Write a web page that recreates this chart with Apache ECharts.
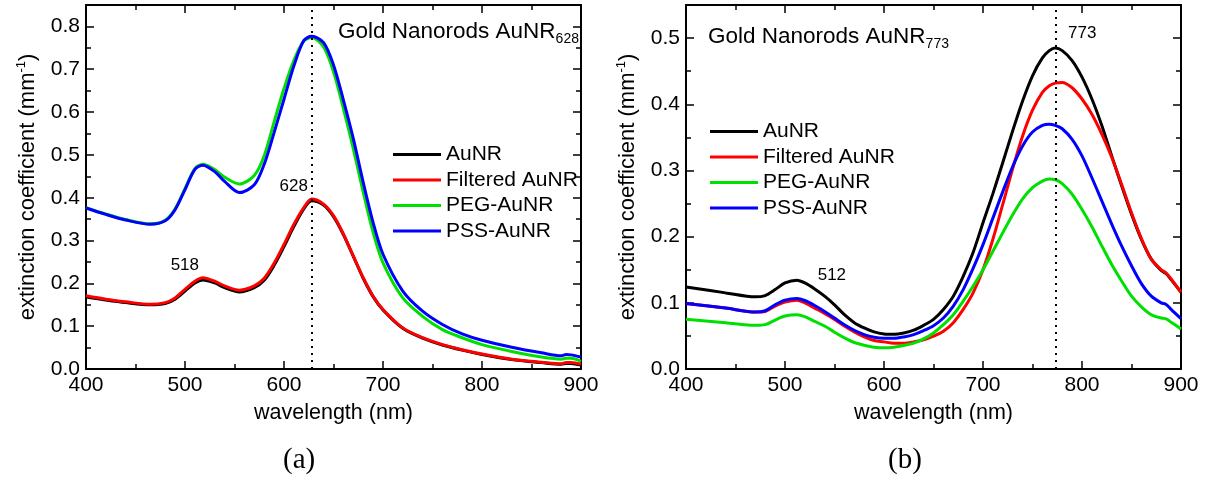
<!DOCTYPE html>
<html>
<head>
<meta charset="utf-8">
<script src="https://cdn.jsdelivr.net/npm/echarts@6/dist/echarts.min.js"></script>
<style>
  html, body { margin: 0; padding: 0; background: #fff; }
  #chart { width: 1208px; height: 484px; }
</style>
</head>
<body>
<div id="chart"></div>
<script>
// panel (a): AuNR628
var wlA = [400,420,440,465,480,490,500,510,518,530,540,555,570,580,590,600,610,620,628,640,650,660,670,680,690,700,720,740,760,780,800,830,860,880,885,890,900];
var aunrA     = [0.168,0.161,0.155,0.150,0.153,0.163,0.182,0.201,0.208,0.201,0.190,0.180,0.190,0.207,0.242,0.286,0.333,0.374,0.393,0.383,0.356,0.314,0.263,0.212,0.169,0.138,0.095,0.072,0.056,0.044,0.034,0.022,0.015,0.011,0.013,0.013,0.009];
var filteredA = [0.171,0.163,0.157,0.151,0.155,0.166,0.186,0.205,0.213,0.205,0.194,0.184,0.194,0.212,0.247,0.291,0.338,0.377,0.397,0.385,0.358,0.315,0.264,0.213,0.170,0.139,0.096,0.073,0.057,0.045,0.035,0.023,0.016,0.012,0.015,0.015,0.011];
var pegA      = [0.377,0.362,0.349,0.339,0.347,0.374,0.421,0.468,0.478,0.466,0.448,0.432,0.452,0.498,0.577,0.655,0.721,0.766,0.774,0.752,0.694,0.608,0.514,0.413,0.319,0.248,0.166,0.123,0.092,0.073,0.057,0.041,0.028,0.023,0.025,0.025,0.018];
var pssA      = [0.376,0.361,0.348,0.338,0.346,0.372,0.419,0.466,0.476,0.461,0.438,0.412,0.430,0.478,0.552,0.630,0.708,0.767,0.777,0.762,0.710,0.628,0.538,0.436,0.342,0.268,0.182,0.135,0.104,0.082,0.067,0.051,0.038,0.031,0.034,0.033,0.028];

// panel (b): AuNR773
var wlB = [400,440,470,480,490,500,512,520,530,540,550,560,570,580,590,600,610,620,630,640,650,660,670,680,690,700,710,720,730,740,750,760,767,773,780,790,800,810,820,830,840,850,860,870,880,885,890,900];
var aunrB     = [0.124,0.115,0.109,0.111,0.120,0.130,0.134,0.130,0.121,0.110,0.097,0.082,0.070,0.062,0.056,0.053,0.0525,0.0545,0.0586,0.066,0.075,0.090,0.110,0.140,0.176,0.221,0.265,0.312,0.360,0.405,0.443,0.470,0.481,0.485,0.481,0.466,0.441,0.408,0.368,0.322,0.277,0.234,0.196,0.166,0.149,0.144,0.135,0.116];
var filteredB = [0.099,0.092,0.086,0.087,0.095,0.101,0.104,0.100,0.092,0.084,0.075,0.065,0.056,0.0485,0.043,0.041,0.039,0.039,0.041,0.044,0.0495,0.057,0.070,0.090,0.115,0.150,0.196,0.249,0.303,0.352,0.391,0.418,0.428,0.432,0.433,0.425,0.408,0.385,0.355,0.320,0.279,0.236,0.197,0.166,0.150,0.145,0.136,0.116];
var pegB      = [0.075,0.070,0.066,0.067,0.074,0.080,0.082,0.079,0.072,0.065,0.0555,0.047,0.040,0.036,0.033,0.032,0.033,0.0355,0.039,0.0455,0.0545,0.067,0.082,0.1025,0.125,0.150,0.178,0.206,0.233,0.257,0.274,0.284,0.287,0.286,0.280,0.264,0.241,0.215,0.186,0.158,0.133,0.110,0.094,0.082,0.077,0.0757,0.0707,0.0606];
var pssB      = [0.099,0.092,0.086,0.088,0.097,0.104,0.1065,0.1035,0.096,0.087,0.077,0.067,0.0585,0.052,0.048,0.0465,0.0465,0.0485,0.052,0.058,0.0655,0.077,0.095,0.120,0.152,0.188,0.228,0.268,0.306,0.337,0.358,0.368,0.370,0.368,0.363,0.347,0.322,0.289,0.254,0.219,0.186,0.156,0.129,0.110,0.100,0.0975,0.090,0.076];

var names = ['AuNR', 'Filtered AuNR', 'PEG-AuNR', 'PSS-AuNR'];
var colors = ['#000000', '#ff0000', '#00e000', '#0000ff'];
var peakA = 628, peakB = 773;

var font = "'Liberation Sans', Arial, sans-serif";

function pairs(xs, ys) {
  return xs.map(function (x, i) { return [x, ys[i]]; });
}

function xAx(gridIndex, pos) {
  return {
    type: 'value', gridIndex: gridIndex, position: pos, min: 400, max: 900, interval: 100,
    name: pos === 'bottom' ? 'wavelength (nm)' : '', nameLocation: 'middle', nameGap: 33,
    nameTextStyle: { fontFamily: font, fontSize: 21.5, color: '#000' },
    axisLine: { show: true, onZero: false, lineStyle: { color: '#000', width: 2 } },
    axisTick: { show: true, inside: true, length: 8, lineStyle: { color: '#000', width: 1.5 } },
    minorTick: { show: true, splitNumber: 2, length: 5, lineStyle: { color: '#000', width: 1.5 } },
    axisLabel: { show: pos === 'bottom', fontFamily: font, fontSize: 21, color: '#000', margin: 6 },
    splitLine: { show: false }
  };
}

function yAx(gridIndex, pos, max) {
  return {
    type: 'value', gridIndex: gridIndex, position: pos, min: 0, max: max, interval: 0.1,
    name: pos === 'left' ? 'extinction coefficient (mm{sup|-1})' : '',
    nameLocation: 'middle', nameGap: 46,
    nameTextStyle: { fontFamily: font, fontSize: 22, color: '#000',
      rich: { sup: { fontFamily: font, fontSize: 13, color: '#000', padding: [0, 0, 12, 0] } } },
    axisLine: { show: true, onZero: false, lineStyle: { color: '#000', width: 2 } },
    axisTick: { show: true, inside: true, length: 8, lineStyle: { color: '#000', width: 1.5 } },
    minorTick: { show: true, splitNumber: 2, length: 5, lineStyle: { color: '#000', width: 1.5 } },
    axisLabel: { show: pos === 'left', showMaxLabel: false, fontFamily: font, fontSize: 21, color: '#000', margin: 6,
      formatter: function (v) { return v.toFixed(1); } },
    splitLine: { show: false }
  };
}

function line(name, idx, xs, ys, axis, extra) {
  var s = {
    name: name, type: 'line', xAxisIndex: axis, yAxisIndex: axis,
    data: pairs(xs, ys), symbol: 'none', smooth: 0.3, z: 2 + idx,
    lineStyle: { color: colors[idx], width: 3 }, itemStyle: { color: colors[idx] },
    animation: false
  };
  if (extra) Object.keys(extra).forEach(function (k) { s[k] = extra[k]; });
  return s;
}

function peakLine(x) {
  return {
    symbol: 'none', silent: true, label: { show: false },
    lineStyle: { color: '#000', type: [2, 5], width: 2 },
    data: [{ xAxis: x }]
  };
}

var peakLabelStyle = { show: true, fontFamily: font, fontSize: 17, color: '#000', position: 'inside' };

var seriesA = [
  line(names[0], 0, wlA, aunrA, 0),
  line(names[1], 1, wlA, filteredA, 0, {
    markLine: peakLine(peakA),
    markPoint: { symbol: 'circle', symbolSize: 0, silent: true, label: peakLabelStyle,
      data: [
        { coord: [peakA, 0.397], label: { formatter: '628', offset: [-18, -13] } },
        { coord: [518, 0.213], label: { formatter: '518', offset: [-18, -12] } }
      ] }
  }),
  line(names[2], 2, wlA, pegA, 0),
  line(names[3], 3, wlA, pssA, 0)
];

var seriesB = [
  line(names[0], 0, wlB, aunrB, 2, {
    markLine: peakLine(peakB),
    markPoint: { symbol: 'circle', symbolSize: 0, silent: true, label: peakLabelStyle,
      data: [
        { coord: [peakB, 0.485], label: { formatter: '773', offset: [27, -15] } },
        { coord: [512, 0.134], label: { formatter: '512', offset: [35, -5] } }
      ] }
  }),
  line(names[1], 1, wlB, filteredB, 2),
  line(names[2], 2, wlB, pegB, 2),
  line(names[3], 3, wlB, pssB, 2)
];

var legendBase = {
  data: names, orient: 'vertical', itemWidth: 48, itemHeight: 14, itemGap: 4.5, padding: 0,
  selectedMode: false, icon: 'path://M0,0 L48,0 L48,3 L0,3 Z',
  textStyle: { fontFamily: font, fontSize: 21, color: '#000' }
};

var titleStyle = { fontFamily: font, fontSize: 22.5, fontWeight: 'normal', color: '#000',
  rich: { sub: { fontFamily: font, fontSize: 14, color: '#000', padding: [15, 0, 0, 0] } } };

var chart = echarts.init(document.getElementById('chart'), null, { renderer: 'canvas' });
chart.setOption({
  backgroundColor: '#fff',
  animation: false,
  title: [
    { text: 'Gold Nanorods AuNR{sub|628}', left: 333, top: 12, textStyle: titleStyle },
    { text: 'Gold Nanorods AuNR{sub|773}', left: 703, top: 17, textStyle: titleStyle }
  ],
  legend: [
    Object.assign({}, legendBase, { left: 393, top: 144 }),
    Object.assign({}, legendBase, { left: 710, top: 121 })
  ],
  grid: [
    { left: 86, top: 5, width: 495, height: 364 },
    { left: 686, top: 5, width: 495, height: 364 }
  ],
  xAxis: [xAx(0, 'bottom'), xAx(0, 'top'), xAx(1, 'bottom'), xAx(1, 'top')],
  yAxis: [yAx(0, 'left', 0.85), yAx(0, 'right', 0.85), yAx(1, 'left', 0.55), yAx(1, 'right', 0.55)],
  graphic: [
    { type: 'text', left: 283, top: 446, style: { text: '(a)', fontFamily: "'Liberation Serif', 'DejaVu Serif', serif", fontSize: 29, fill: '#000' } },
    { type: 'text', left: 888, top: 446, style: { text: '(b)', fontFamily: "'Liberation Serif', 'DejaVu Serif', serif", fontSize: 29, fill: '#000' } }
  ],
  series: seriesA.concat(seriesB)
});
</script>
</body>
</html>
